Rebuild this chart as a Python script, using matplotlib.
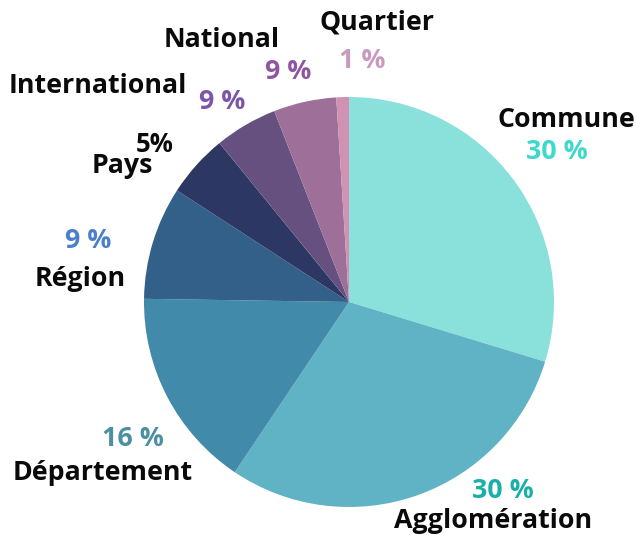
import matplotlib.pyplot as plt

# Slice data, clockwise from the top
categories = ['Commune', 'Agglomération', 'Département', 'Région',
              'Pays', 'International', 'National', 'Quartier']
shares = [30, 30, 16, 9, 5, 5, 5, 1]
pct_labels = ['30 %', '30 %', '16 %', '9 %', '5%', '9 %', '9 %', '1 %']

slice_colors = ['#8ae1db', '#60b3c5', '#428aaa', '#336089',
                '#2d3764', '#66507f', '#9e7099', '#d091b2']
pct_colors = ['#3dd9cc', '#1aafa8', '#4b8fa0', '#4a7fcb',
              '#0a0a0a', '#7d55a8', '#8e56a0', '#c99ac0']

# Label positions in pixels (x, y from top)
name_pos = [(566, 120), (493, 521), (103, 473), (80, 279),
            (122, 166), (98, 86), (222, 40), (377, 23)]
pct_pos = [(557, 152), (503, 491), (133, 439), (88, 241),
           (155, 145), (222, 102), (288, 72), (362, 61)]

W, H = 638, 535
fig = plt.figure(figsize=(W / 100, H / 100), dpi=100)
ax = fig.add_axes([0, 0, 1, 1])

# Pie
ax.pie(shares,
       colors=slice_colors,
       startangle=90,
       counterclock=False,
       center=(349, H - 302),
       radius=205,
       wedgeprops=dict(linewidth=0))
ax.set_xlim(0, W)
ax.set_ylim(0, H)
ax.set_aspect('equal')
ax.axis('off')

# Labels
fs = 19.3
for name, (x, y) in zip(categories, name_pos):
    ax.text(x, H - y, name, ha='center', va='center',
            fontsize=fs, fontweight='bold', family='Open Sans', color='#0a0a0a')

for txt, col, (x, y) in zip(pct_labels, pct_colors, pct_pos):
    size = 18.5 if txt == '5%' else fs
    ax.text(x, H - y, txt, ha='center', va='center',
            fontsize=size, fontweight='bold', family='Open Sans', color=col)

fig.savefig('out.png', dpi=100)
